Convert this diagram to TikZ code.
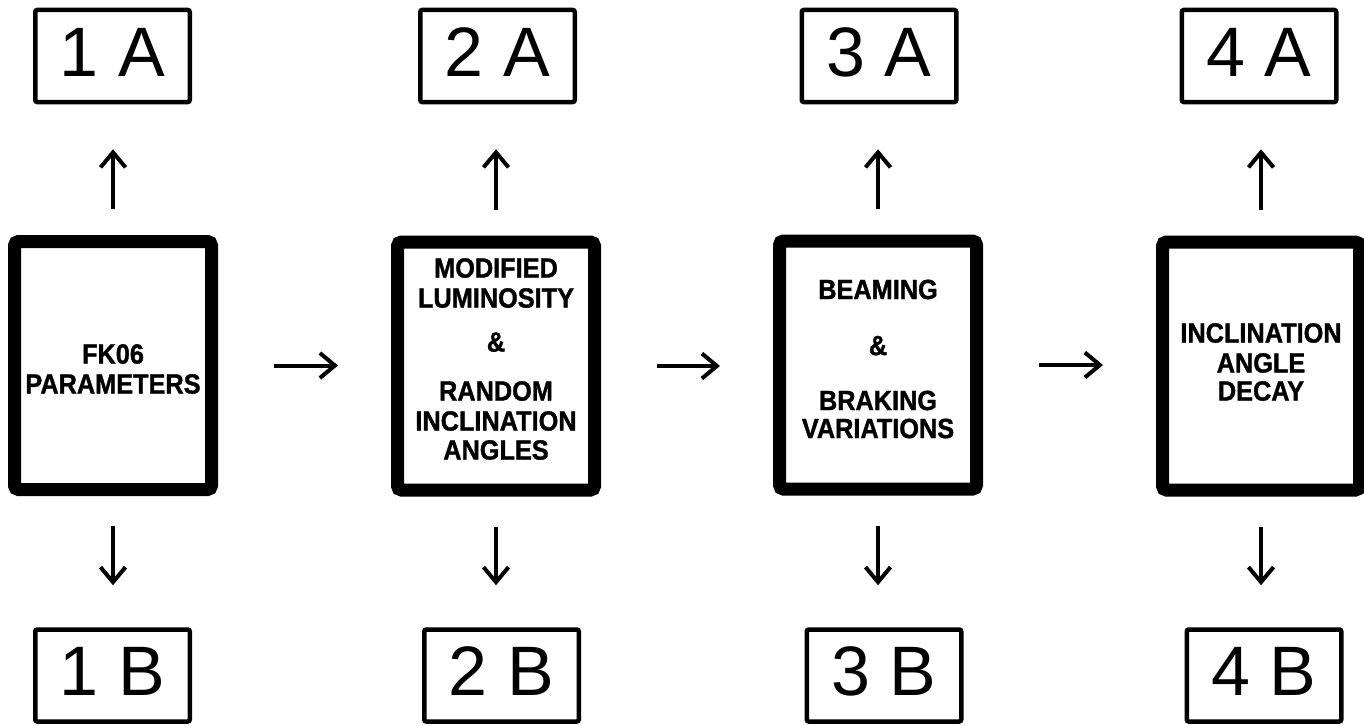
\documentclass[tikz,border=0pt]{standalone}
\usepackage{fontspec}
\setmainfont{Liberation Sans}
\newfontfamily\boxfont[FakeStretch=0.91,FakeBold=1.2]{Liberation Sans Bold}
\usetikzlibrary{arrows.meta}
\tikzset{
  mainbox/.style={draw=black, line width=13pt, rounded corners=4pt, minimum width=197pt, minimum height=248pt, inner sep=0pt},
  maintext/.style={align=center, inner sep=0pt, font=\boxfont\fontsize{27.8}{28}\selectfont},
  smallbox/.style={draw=black, line width=4.5pt, rounded corners=2pt, minimum width=154.5pt, minimum height=92pt, inner sep=0pt, text height=51pt, text depth=11pt, font=\fontsize{70}{80}\selectfont},
  arr/.style={line width=4pt, -{Straight Barb[length=15pt,width=25pt]}},
  uparr/.style={arr, shorten <=26pt, shorten >=45pt},
  downarr/.style={arr, shorten <=30pt, shorten >=42pt},
  rightarr/.style={arr, shorten <=56pt, shorten >=53pt}
}
\begin{document}
\begin{tikzpicture}[x=1pt,y=-1pt]
\useasboundingbox[fill=white] (0,0) rectangle (1364,725);
% main boxes
\node[mainbox] (m1) at (113,365.5) {};
\node[mainbox] (m2) at (496,366) {};
\node[mainbox] (m3) at (878,365) {};
\node[mainbox] (m4) at (1261,366) {};
% texts
\node[maintext] (t1) at (113,369) {FK06\\[2pt]PARAMETERS};
\node[maintext] (t2) at (496,359) {MODIFIED\\[2pt]LUMINOSITY\\[16pt]\&\\[21pt]RANDOM\\[2pt]INCLINATION\\[1pt]ANGLES};
\node[maintext] (t3) at (878,359) {BEAMING\\[28pt]\&\\[27pt]BRAKING\\[0pt]VARIATIONS};
\node[maintext] (t4) at (1261,362) {INCLINATION\\[2pt]ANGLE\\[0pt]DECAY};
% small boxes
\node[smallbox] (a1) at (112.5,56) {1 A};
\node[smallbox] (a2) at (497.5,56) {2 A};
\node[smallbox] (a3) at (879,56) {3 A};
\node[smallbox] (a4) at (1259,56) {4 A};
\node[smallbox] (b1) at (112.5,675.5) {1 B};
\node[smallbox] (b2) at (501.5,675.5) {2 B};
\node[smallbox] (b3) at (884,675.5) {3 B};
\node[smallbox] (b4) at (1264,675.5) {4 B};
% vertical arrows
\foreach \i in {1,2,3,4}{
  \draw[uparr] (m\i.north) -- (m\i.north |- a\i.south);
  \draw[downarr] (m\i.south) -- (m\i.south |- b\i.north);
}
% horizontal arrows
\draw[rightarr] (m1.east) -- (m2.west |- m1.east);
\draw[rightarr] (m2.east) -- (m3.west |- m2.east);
\draw[rightarr] (m3.east) -- (m4.west |- m3.east);
\end{tikzpicture}
\end{document}
